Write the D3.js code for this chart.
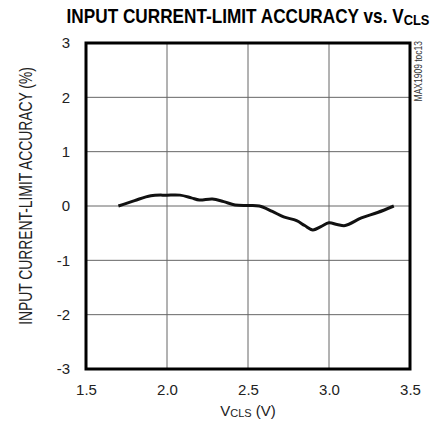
<!DOCTYPE html>
<html>
<head>
<meta charset="utf-8">
<script src="https://cdn.jsdelivr.net/npm/d3@7"></script>
<style>
  body { margin: 0; background: #fff; }
  text { font-family: "Liberation Sans", Arial, sans-serif; }
</style>
</head>
<body>
<div class="chart"></div>
<script>
// data
const vcls = [1.70, 1.80, 1.90, 2.00, 2.08, 2.15, 2.20, 2.28, 2.35, 2.42, 2.50, 2.57,
              2.65, 2.72, 2.80, 2.85, 2.90, 2.95, 3.00, 3.05, 3.10, 3.20, 3.30, 3.40]
const accuracy = [0, 0.10, 0.19, 0.20, 0.20, 0.15, 0.11, 0.13, 0.08, 0.02, 0.01, 0,
                  -0.10, -0.20, -0.27, -0.36, -0.44, -0.38, -0.31, -0.34, -0.36, -0.22, -0.12, 0]
const xTicks = [1.5, 2.0, 2.5, 3.0, 3.5]
const yTicks = [-3, -2, -1, 0, 1, 2, 3]

const W = 442, H = 431
const m = { left: 86, right: 32, top: 43, bottom: 62 }

const svg = d3.select('.chart')
    .append('svg')
    .attr('width', W)
    .attr('height', H)

const x = d3.scaleLinear().domain([1.5, 3.5]).range([m.left, W - m.right])
const y = d3.scaleLinear().domain([-3, 3]).range([H - m.bottom, m.top])

// grid
svg.append('g')
    .selectAll('line.vg')
    .data(xTicks.slice(1, -1))
    .enter()
    .append('line')
    .attr('x1', d => x(d)).attr('x2', d => x(d))
    .attr('y1', y(3)).attr('y2', y(-3))
    .attr('stroke', '#666').attr('stroke-width', 1)

svg.append('g')
    .selectAll('line.hg')
    .data(yTicks.slice(1, -1))
    .enter()
    .append('line')
    .attr('x1', x(1.5)).attr('x2', x(3.5))
    .attr('y1', d => y(d)).attr('y2', d => y(d))
    .attr('stroke', '#666').attr('stroke-width', 1)

// frame
svg.append('rect')
    .attr('x', x(1.5)).attr('y', y(3))
    .attr('width', x(3.5) - x(1.5)).attr('height', y(-3) - y(3))
    .attr('fill', 'none').attr('stroke', '#000').attr('stroke-width', 3)

// axes (labels only)
const xAxis = d3.axisBottom(x).tickValues(xTicks).tickFormat(d3.format('.1f')).tickSize(0).tickPadding(15)
svg.append('g')
    .attr('transform', `translate(0, ${y(-3)})`)
    .call(xAxis)
    .call(g => g.select('.domain').remove())
    .selectAll('text')
    .attr('font-size', '15px')
    .attr('font-family', '"Liberation Sans", sans-serif')
    .attr('fill', '#222')

const yAxis = d3.axisLeft(y).tickValues(yTicks).tickFormat(d => String(d)).tickSize(0).tickPadding(16)
svg.append('g')
    .attr('transform', `translate(${x(1.5)}, 0)`)
    .call(yAxis)
    .call(g => g.select('.domain').remove())
    .selectAll('text')
    .attr('font-size', '15px')
    .attr('font-family', '"Liberation Sans", sans-serif')
    .attr('fill', '#222')

// curve
const line = d3.line()
    .x((d, i) => x(vcls[i]))
    .y(d => y(d))
    .curve(d3.curveCatmullRom)

svg.append('path')
    .datum(accuracy)
    .attr('d', line)
    .attr('fill', 'none')
    .attr('stroke', '#111')
    .attr('stroke-width', 3)
    .attr('stroke-linejoin', 'round')

// title, condensed bold
const title = svg.append('text')
    .attr('transform', 'translate(248, 23) scale(0.86, 1)')
    .attr('text-anchor', 'middle')
    .attr('font-size', '20px')
    .attr('font-weight', 'bold')
    .attr('fill', '#000')
title.append('tspan').text('INPUT CURRENT-LIMIT ACCURACY vs. V')
title.append('tspan').attr('font-size', '15px').attr('dy', 2).text('CLS')

// x label
const xl = svg.append('text')
    .attr('x', x(2.5)).attr('y', 416)
    .attr('text-anchor', 'middle')
    .attr('font-size', '15px')
    .attr('fill', '#222')
xl.append('tspan').text('V')
xl.append('tspan').attr('font-size', '11px').attr('dy', 1).text('CLS')
xl.append('tspan').attr('dy', -1).text(' (V)')

// y label
svg.append('text')
    .attr('transform', 'translate(32, 196) rotate(-90) scale(0.77, 1)')
    .attr('text-anchor', 'middle')
    .attr('font-size', '18px')
    .attr('fill', '#222')
    .text('INPUT CURRENT-LIMIT ACCURACY (%)')

// side note
svg.append('text')
    .attr('transform', 'translate(422, 41) rotate(-90) scale(0.85, 1)')
    .attr('text-anchor', 'end')
    .attr('font-size', '10px')
    .attr('fill', '#333')
    .text('MAX1909 toc13')
</script>
</body>
</html>
